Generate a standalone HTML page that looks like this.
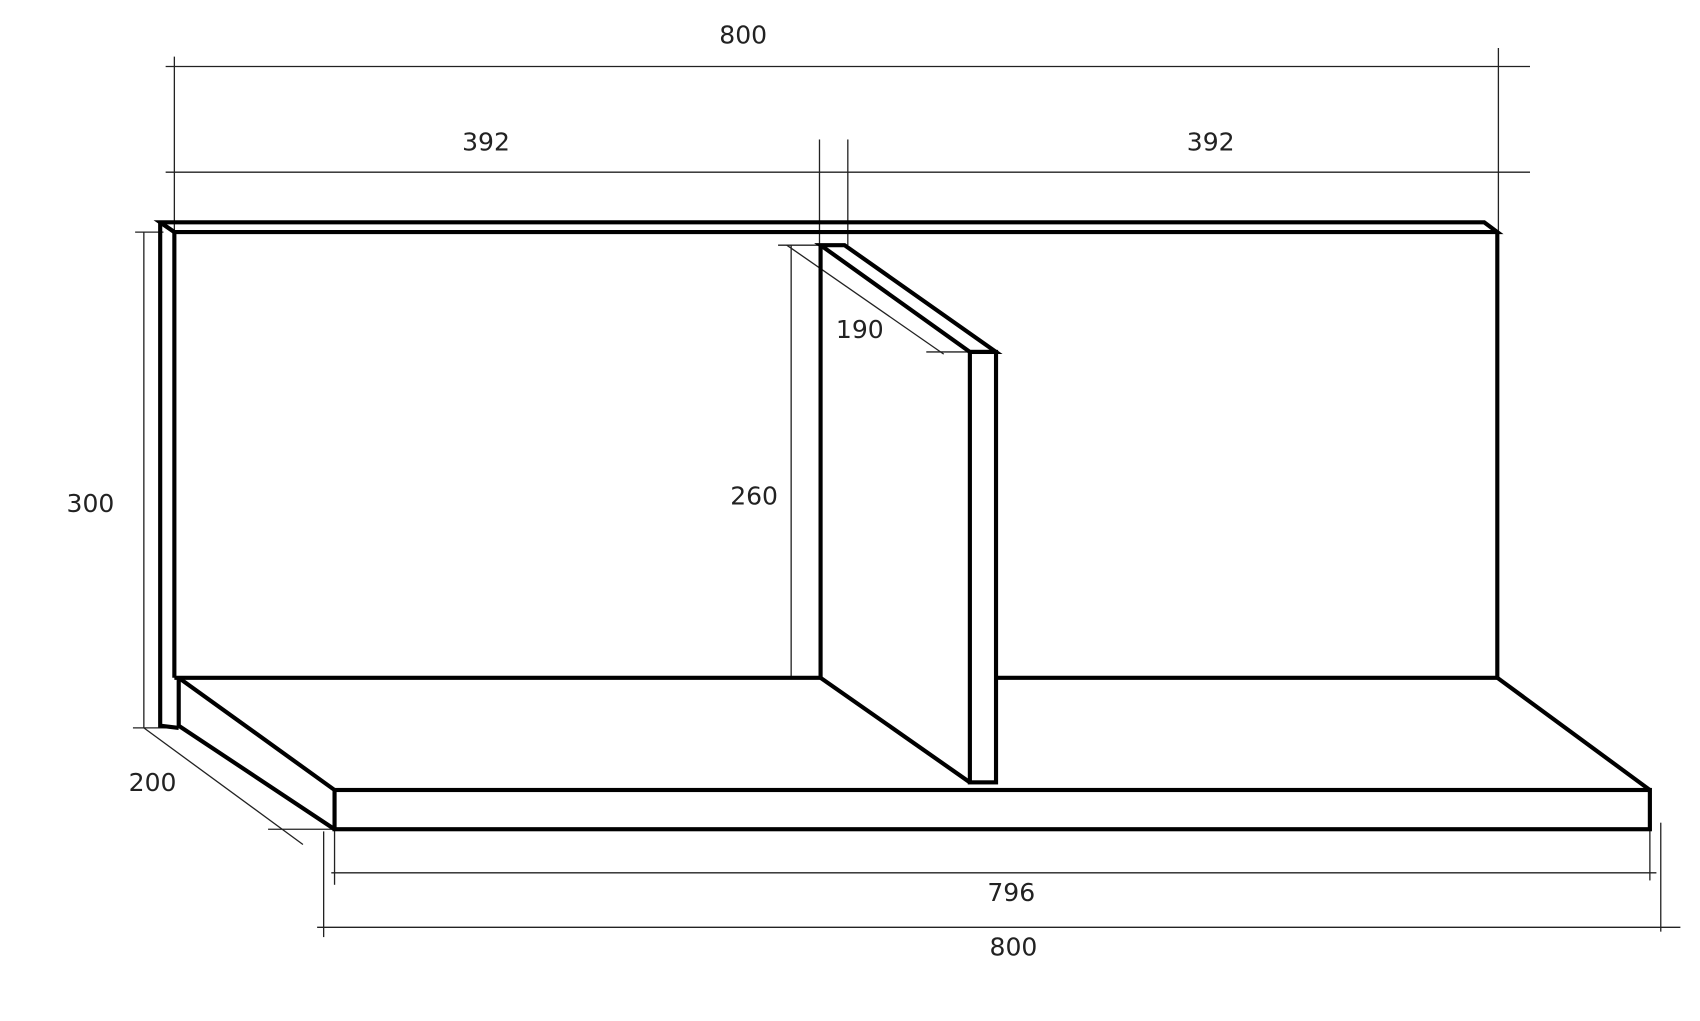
<!DOCTYPE html>
<html><head><meta charset="utf-8"><style>html,body{margin:0;padding:0;background:#fff;overflow:hidden}svg{display:block}</style></head>
<body>
<svg width="1700" height="1021" viewBox="0 0 1560 937" preserveAspectRatio="none" xmlns="http://www.w3.org/2000/svg">
<g stroke="#222" stroke-width="1.2" fill="none">
<line x1="152" y1="61" x2="1404" y2="61"/>
<line x1="160" y1="52" x2="160" y2="212"/>
<line x1="1375" y1="44" x2="1375" y2="212"/>
<line x1="152" y1="158" x2="1404" y2="158"/>
<line x1="752" y1="128" x2="752" y2="225"/>
<line x1="778" y1="128" x2="778" y2="225"/>
<line x1="726" y1="225" x2="726" y2="622"/>
<line x1="714" y1="225" x2="753" y2="225"/>
<line x1="722" y1="225" x2="866" y2="325"/>
<line x1="850" y1="323" x2="890" y2="323"/>
<line x1="132" y1="213" x2="132" y2="668"/>
<line x1="124" y1="213" x2="150" y2="213"/>
<line x1="122" y1="668" x2="160" y2="668"/>
<line x1="132" y1="668" x2="278" y2="775"/>
<line x1="246" y1="761" x2="307" y2="761"/>
<line x1="304" y1="801" x2="1520" y2="801"/>
<line x1="307" y1="761" x2="307" y2="812"/>
<line x1="1514" y1="761" x2="1514" y2="808"/>
<line x1="291" y1="851" x2="1542" y2="851"/>
<line x1="297" y1="763" x2="297" y2="860"/>
<line x1="1524" y1="755" x2="1524" y2="855"/>
</g>
<g stroke="#000" stroke-width="3.8" fill="none" stroke-linejoin="miter">
<polygon points="147,204 1362,204 1374,213 160,213"/>
<line x1="147" y1="204" x2="160" y2="213"/>
<polyline points="147,204 147,666 164,668"/>
<line x1="160" y1="213" x2="160" y2="622"/>
<line x1="1374" y1="213" x2="1374" y2="622"/>
<line x1="160" y1="622" x2="753" y2="622"/>
<line x1="914" y1="622" x2="1374" y2="622"/>
<polyline points="164,622 164,666 307,761"/>
<line x1="164" y1="622" x2="307" y2="725"/>
<line x1="1374" y1="622" x2="1514" y2="725"/>
<rect x="307" y="725" width="1207" height="36"/>
<polygon points="753,225 775,225 914,323 890,323"/>
<rect x="890" y="323" width="24" height="395"/>
<line x1="753" y1="225" x2="753" y2="622"/>
<line x1="753" y1="622" x2="890" y2="718"/>
</g>
<g font-family="DejaVu Sans, Verdana, sans-serif" font-size="23" fill="#222" text-anchor="middle">
<text x="682" y="40">800</text>
<text x="446" y="138">392</text>
<text x="1111" y="138">392</text>
<text x="789" y="310">190</text>
<text x="692" y="463">260</text>
<text x="83" y="470">300</text>
<text x="140" y="726">200</text>
<text x="928" y="827">796</text>
<text x="930" y="877">800</text>
</g>
</svg>
</body></html>
